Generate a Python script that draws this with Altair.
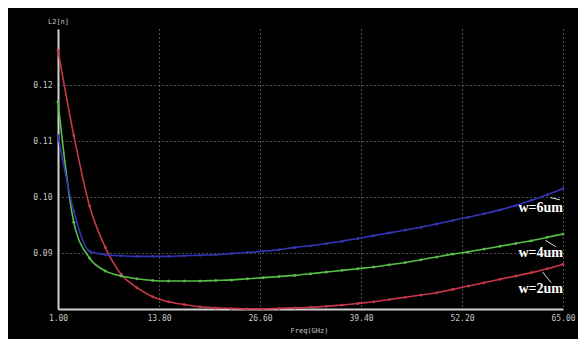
import altair as alt
import pandas as pd

freq = [1, 3, 5, 7, 9, 11, 13, 15, 17, 19, 21, 23, 25, 27, 29, 31, 33,
        35, 37, 39, 41, 43, 45, 47, 49, 51, 53, 55, 57, 59, 61, 63, 65]

w2 = [0.1262, 0.1110, 0.0984, 0.0910, 0.0862, 0.0838, 0.0822, 0.0813, 0.0808,
      0.0804, 0.0802, 0.0801, 0.0800, 0.0800, 0.0801, 0.0802, 0.0803, 0.0805,
      0.0807, 0.0810, 0.0813, 0.0817, 0.0821, 0.0825, 0.0829, 0.0835, 0.0841,
      0.0847, 0.0853, 0.0859, 0.0865, 0.0872, 0.0880]

w4 = [0.1170, 0.0955, 0.0891, 0.0868, 0.0859, 0.0854, 0.0851, 0.0850, 0.0850,
      0.0850, 0.0851, 0.0852, 0.0854, 0.0856, 0.0858, 0.0860, 0.0863, 0.0866,
      0.0869, 0.0872, 0.0875, 0.0879, 0.0883, 0.0888, 0.0893, 0.0898, 0.0902,
      0.0907, 0.0912, 0.0917, 0.0922, 0.0928, 0.0934]

w6 = [0.1110, 0.0975, 0.0903, 0.0897, 0.0895, 0.0894, 0.0894, 0.0894, 0.0895,
      0.0896, 0.0897, 0.0899, 0.0901, 0.0903, 0.0906, 0.0910, 0.0913, 0.0917,
      0.0921, 0.0926, 0.0931, 0.0936, 0.0941, 0.0946, 0.0952, 0.0958, 0.0964,
      0.0970, 0.0977, 0.0985, 0.0994, 0.1004, 0.1015]

x_ticks = [1.0, 13.8, 26.6, 39.4, 52.2, 65.0]
y_ticks = [0.09, 0.10, 0.11, 0.12]

label_text = ["w=6um", "w=4um", "w=2um"]
label_f = [65, 65, 65]
label_v = [0.0980, 0.0900, 0.0835]

lead_f1 = [63.4, 62.75, 62.4]
lead_v1 = [0.0999, 0.0923, 0.0866]
lead_f2 = [64.6, 64.1, 63.5]
lead_v2 = [0.0995, 0.0911, 0.0847]

series = ["w=2um", "w=4um", "w=6um"]
line_colors = ["#c83848", "#58c048", "#3434b4"]
dot_colors = ["#ff8c9c", "#d8ffc8", "#5050e0"]

rows = []
for name, vals in zip(series, [w2, w4, w6]):
    for f, v in zip(freq, vals):
        rows.append({"f": f, "v": v, "s": name})
df = pd.DataFrame(rows)

labels = pd.DataFrame({"t": label_text, "f": label_f, "v": label_v})
leads = pd.DataFrame({"f1": lead_f1, "v1": lead_v1, "f2": lead_f2, "v2": lead_v2})

xscale = alt.Scale(domain=[1, 65], nice=False, zero=False)
yscale = alt.Scale(domain=[0.08, 0.13], nice=False, zero=False)

xaxis = alt.Axis(values=x_ticks, format=".2f", grid=True, gridColor="#9a9a9a",
                 gridDash=[1, 3], gridWidth=1, domainColor="#d0d0d0", domainWidth=2,
                 ticks=False, labelColor="#c8c8c8", labelFontSize=8,
                 labelFont="DejaVu Sans Mono", labelPadding=5,
                 title="Freq(GHz)", titleColor="#c8c8c8", titleFontSize=7,
                 titleFont="DejaVu Sans Mono", titleFontWeight="normal",
                 titleAnchor="start", titleAlign="left", titleX=232, titleY=17,
                 titleBaseline="top", labelFlush=False)
yaxis = alt.Axis(values=y_ticks, format=".2f", grid=True, gridColor="#9a9a9a",
                 gridDash=[1, 3], gridWidth=1, domainColor="#d0d0d0", domainWidth=2,
                 ticks=False, labelColor="#c8c8c8", labelFontSize=8,
                 labelFont="DejaVu Sans Mono", labelPadding=6,
                 title="L2[n]", titleColor="#c8c8c8", titleFontSize=7,
                 titleFont="DejaVu Sans Mono", titleFontWeight="normal",
                 titleAngle=0, titleX=0, titleY=-5, titleAlign="center",
                 titleBaseline="bottom")

color = alt.Color("s:N", scale=alt.Scale(domain=series, range=line_colors), legend=None)
dcolor = alt.Color("s:N", scale=alt.Scale(domain=series, range=dot_colors), legend=None)

base = alt.Chart(df)
lines = base.mark_line(strokeWidth=1.6, interpolate="monotone").encode(
    x=alt.X("f:Q", scale=xscale, axis=xaxis),
    y=alt.Y("v:Q", scale=yscale, axis=yaxis),
    color=color,
    detail="s:N",
)
pts = base.mark_circle(size=9, opacity=0.9).encode(
    x=alt.X("f:Q", scale=xscale),
    y=alt.Y("v:Q", scale=yscale),
    color=dcolor,
)
txt = alt.Chart(labels).mark_text(align="right", baseline="middle", font="Liberation Serif",
                                  fontWeight="bold", fontSize=14, color="white").encode(
    x=alt.X("f:Q", scale=xscale),
    y=alt.Y("v:Q", scale=yscale),
    text="t:N",
)
lead = alt.Chart(leads).mark_rule(color="#e0e0e0", strokeWidth=1).encode(
    x=alt.X("f1:Q", scale=xscale),
    x2="f2:Q",
    y=alt.Y("v1:Q", scale=yscale),
    y2="v2:Q",
)

chart = alt.layer(lines, pts, lead, txt).properties(
    width=505, height=280,
    autosize=alt.AutoSizeParams(type="none"),
    padding={"left": 50, "top": 21, "right": 15, "bottom": 30},
    background="black",
).configure_view(stroke=None, fill="black")

chart.save("out.html", embed_options={"renderer": "svg", "actions": False})
